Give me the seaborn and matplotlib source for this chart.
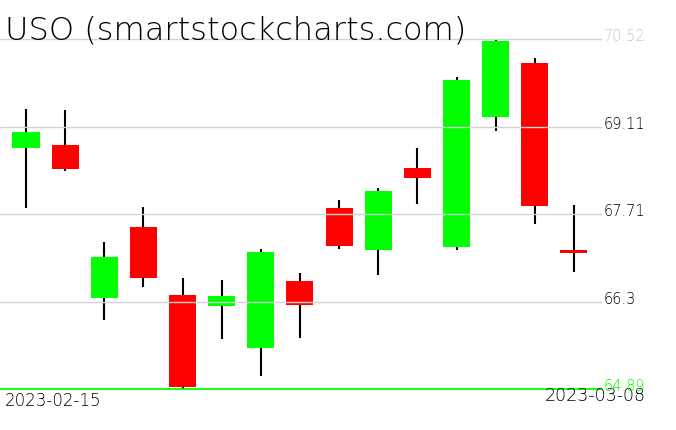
import matplotlib
matplotlib.use("Agg")
import matplotlib.pyplot as plt
import seaborn as sns
import pandas as pd

sns.set_theme(style="white")
plt.rcParams['font.family'] = ['DejaVu Sans']

title = "USO (smartstockcharts.com)"
dates = ['2023-02-15', '2023-02-16', '2023-02-17', '2023-02-21', '2023-02-22',
         '2023-02-23', '2023-02-24', '2023-02-27', '2023-02-28', '2023-03-01',
         '2023-03-02', '2023-03-03', '2023-03-06', '2023-03-07', '2023-03-08']
opens = [68.77, 68.81, 66.35, 67.50, 66.40, 66.22, 65.56, 66.63, 67.80, 67.13,
         68.445, 67.18, 69.27, 70.13, 67.13]
closes = [69.02, 68.43, 67.02, 66.68, 64.92, 66.39, 67.10, 66.25, 67.19, 68.08,
          68.29, 69.86, 70.48, 67.84, 67.08]
highs = [69.39, 69.38, 67.26, 67.82, 66.68, 66.65, 67.14, 66.76, 67.93, 68.12,
         68.77, 69.90, 70.50, 70.21, 67.85]
lows = [67.80, 68.40, 66.01, 66.54, 64.90, 65.69, 65.11, 65.72, 67.15, 66.72,
        67.87, 67.13, 69.04, 67.55, 66.77]
tick_values = [64.89, 66.30, 67.71, 69.11, 70.52]
tick_labels = ['64.89', '66.3', '67.71', '69.11', '70.52']

df = pd.DataFrame({'date': dates, 'open': opens, 'close': closes,
                   'high': highs, 'low': lows})
df['x'] = range(len(df))
df['color'] = ['#00ff00' if c >= o else '#ff0000' for o, c in zip(df.open, df.close)]

W, H = 676, 431
fig = plt.figure(figsize=(W / 100, H / 100), dpi=100)
ax_left, ax_right = 0, 601
ax_top, ax_bot = 39.8, 390.3
ax = fig.add_axes([ax_left / W, (H - ax_bot) / H, (ax_right - ax_left) / W,
                   (ax_bot - ax_top) / H])
ax.set_axis_off()

# wicks
ax.vlines(df.x, df.low, df.high, color='black', lw=1.5, zorder=1)
# bodies
bot = df[['open', 'close']].min(axis=1)
hgt = (df.close - df.open).abs()
ax.bar(df.x, hgt, bottom=bot, width=0.69, color=df.color, zorder=2, linewidth=0)

ax.set_xlim(-26 / 39.14, (601 - 26) / 39.14)
ax.set_ylim(tick_values[0], tick_values[-1])

# gridlines + price labels
for v, lab in zip(tick_values, tick_labels):
    if v == tick_values[0]:
        col_l, col_t, lw = '#00ff00', '#00ff00', 1.3
    elif v == tick_values[-1]:
        col_l, col_t, lw = '#d3d3d3', '#c8c8c8', 1.0
    else:
        col_l, col_t, lw = '#d3d3d3', 'black', 1.0
    ax.axhline(v, color=col_l, lw=lw, zorder=3, clip_on=False)

# date labels
fig.text(5 / W, 1 - 406 / H, dates[0], fontsize=12, color='black', fontweight='light',
         ha='left', va='baseline')
fig.text(646 / W, 1 - 401 / H, dates[-1], fontsize=12.5, color='black', fontweight='light',
         ha='right', va='baseline')

fig.canvas.draw()
for v, lab in zip(tick_values, tick_labels):
    if v == tick_values[0]:
        col_t = '#00ff00'
    elif v == tick_values[-1]:
        col_t = '#c8c8c8'
    else:
        col_t = 'black'
    ypix = ax.transData.transform((0, v))[1]
    fig.text(604 / W, (ypix - 1) / H, lab, fontsize=10.5,
             color=col_t, ha='left', va='baseline', fontweight='light')

fig.text(5 / W, 1 - 39 / H, title, fontsize=23, color='black', fontweight='light',
         ha='left', va='baseline')

fig.savefig('out.png', dpi=100)
